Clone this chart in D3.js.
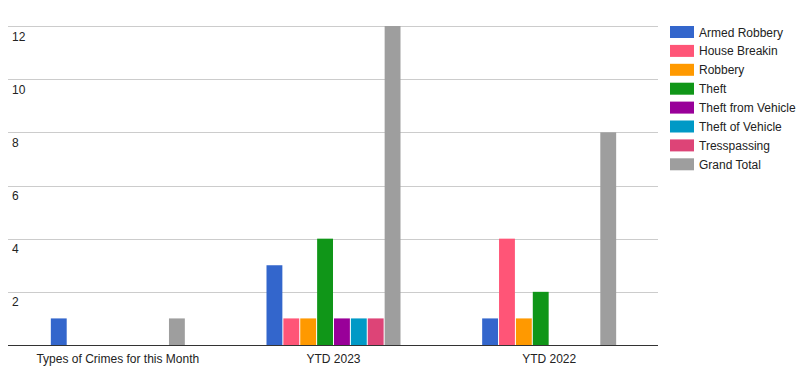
<!DOCTYPE html>
<html>
<head>
<meta charset="utf-8">
<script src="https://cdn.jsdelivr.net/npm/d3@7"></script>
<style>
  body { margin: 0; background: #fff; }
  svg { display: block; font-family: "Liberation Sans", Arial, sans-serif; }
</style>
</head>
<body>
<svg id="chart" width="800" height="381"></svg>
<script>
const categories = ["Types of Crimes for this Month", "YTD 2023", "YTD 2022"];
const seriesNames = ["Armed Robbery", "House Breakin", "Robbery", "Theft",
  "Theft from Vehicle", "Theft of Vehicle", "Tresspassing", "Grand Total"];
const seriesColors = ["#3366cc", "#ff5577", "#ff9900", "#109618",
  "#990099", "#0099c6", "#dd4477", "#9e9e9e"];

// one array per series, values per category
const armedRobbery = [1, 3, 1];
const houseBreakin = [0, 1, 4];
const robbery = [0, 1, 1];
const theft = [0, 4, 2];
const theftFromVehicle = [0, 1, 0];
const theftOfVehicle = [0, 1, 0];
const tresspassing = [0, 1, 0];
const grandTotal = [1, 12, 8];
const yTicks = [2, 4, 6, 8, 10, 12];

const seriesValues = [armedRobbery, houseBreakin, robbery, theft,
  theftFromVehicle, theftOfVehicle, tresspassing, grandTotal];

const chart = {
  left: 10,
  right: 657,
  top: 26,
  bottom: 345,
  groupWidth: 134
};

const svg = d3.select("#chart");

const x0 = d3.scaleBand().domain(categories).range([chart.left, chart.right]);
const bw = x0.bandwidth();
const x1 = d3.scaleBand()
  .domain(seriesNames)
  .range([(bw - chart.groupWidth) / 2, (bw + chart.groupWidth) / 2])
  .paddingInner(0.06);
const y = d3.scaleLinear().domain([0, 12]).range([chart.bottom, chart.top]);
const color = d3.scaleOrdinal().domain(seriesNames).range(seriesColors);

// gridlines
svg.append("g")
  .selectAll("line")
  .data(yTicks)
  .join("line")
  .attr("x1", 8)
  .attr("x2", 658)
  .attr("y1", d => Math.round(y(d)) + 0.5)
  .attr("y2", d => Math.round(y(d)) + 0.5)
  .attr("stroke", "#cccccc");

// y labels sit below their gridline
svg.append("g")
  .selectAll("text")
  .data(yTicks)
  .join("text")
  .attr("x", 12)
  .attr("y", d => y(d) + 14.5)
  .attr("font-size", 12)
  .attr("fill", "#222")
  .text(d => d);

// bars
const rows = categories.map((c, i) => ({
  category: c,
  values: seriesNames.map((s, j) => ({ key: s, value: seriesValues[j][i] }))
}));

svg.append("g")
  .selectAll("g")
  .data(rows)
  .join("g")
  .attr("transform", d => `translate(${x0(d.category)},0)`)
  .selectAll("rect")
  .data(d => d.values.filter(v => v.value > 0))
  .join("rect")
  .attr("x", d => x1(d.key))
  .attr("width", x1.bandwidth())
  .attr("y", d => y(d.value))
  .attr("height", d => y(0) - y(d.value))
  .attr("fill", d => color(d.key));

// baseline
svg.append("line")
  .attr("x1", 8)
  .attr("x2", 658)
  .attr("y1", chart.bottom + 0.5)
  .attr("y2", chart.bottom + 0.5)
  .attr("stroke", "#333")
  .attr("stroke-width", 1);

// x labels
svg.append("g")
  .selectAll("text")
  .data(categories)
  .join("text")
  .attr("x", d => x0(d) + bw / 2)
  .attr("y", 363)
  .attr("text-anchor", "middle")
  .attr("font-size", 12)
  .attr("fill", "#222")
  .text(d => d);

// legend
const legend = svg.append("g")
  .attr("transform", "translate(670,26)")
  .selectAll("g")
  .data(seriesNames)
  .join("g")
  .attr("transform", (d, i) => `translate(0,${i * 18.9})`);

legend.append("rect")
  .attr("width", 24)
  .attr("height", 12)
  .attr("fill", d => color(d));

legend.append("text")
  .attr("x", 29)
  .attr("y", 10.5)
  .attr("font-size", 12)
  .attr("fill", "#222")
  .text(d => d);
</script>
</body>
</html>
